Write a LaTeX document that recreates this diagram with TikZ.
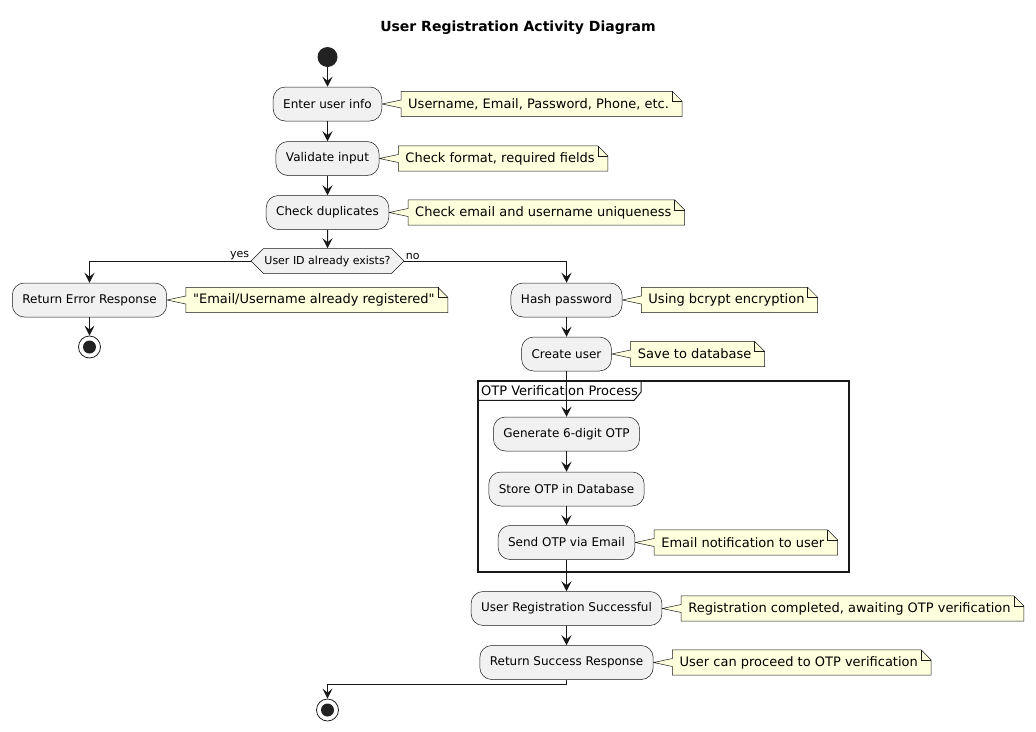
\documentclass[tikz,border=0pt]{standalone}
\usepackage{fontspec}
\setmainfont{DejaVu Sans}[Ligatures=TeXOff]
\usetikzlibrary{arrows.meta,calc,positioning,shapes.symbols,backgrounds}
\definecolor{actfill}{HTML}{F1F1F1}
\definecolor{notefill}{HTML}{FEFFDD}
\definecolor{ink}{HTML}{181818}
\definecolor{dot}{HTML}{222222}
\def\notelink(#1)(#2){\begin{pgfonlayer}{background}\draw[ink, line width=0.5pt, fill=notefill] (#1.south west) -- ($(#1.west)+(0,4)$) -- (#2.east) -- ($(#1.west)+(0,-4)$) -- (#1.north west) -- ($(#1.north east)+(-10,0)$) -- ($(#1.north east)+(0,10)$) -- (#1.south east) -- cycle;\end{pgfonlayer}
	\draw[ink, line width=0.5pt] ($(#1.north east)+(-10,0)$) -- ($(#1.north east)+(-10,10)$) -- ($(#1.north east)+(0,10)$);}

\begin{document}
\begin{tikzpicture}[x=1pt, y=-1pt,
		action/.style={draw=ink, line width=0.5pt, fill=actfill, rounded corners=12pt, minimum height=34pt, inner xsep=10pt, inner ysep=0pt, font=\fontsize{12}{14}\selectfont},
		note/.style={minimum height=25pt, inner xsep=7pt, inner ysep=0pt, font=\fontsize{13}{15}\selectfont, execute at end node={\hspace{6pt}}},
		decide/.style={signal, signal to=west and east, draw=ink, line width=0.5pt, fill=actfill, minimum height=25pt, inner xsep=1pt, inner ysep=0pt, font=\fontsize{11}{13}\selectfont},
		branch/.style={inner sep=1pt, font=\fontsize{11}{13}\selectfont},
		startdot/.style={circle, fill=dot, minimum size=20pt, inner sep=0pt},
		stopdot/.style={circle, draw=dot, line width=0.8pt, fill=white, minimum size=22pt, inner sep=0pt, path picture={\fill[dot] (path picture bounding box.center) circle (6.5pt);}},
		flow/.style={draw=ink, line width=1pt, -{Stealth[length=10pt, width=10pt, inset=4pt]}}]
			%%%%% START %%%%%
			
			\useasboundingbox (0,0) rectangle (1036,731);
			
			\node[font=\bfseries\fontsize{14}{16}\selectfont] (title) at (518,28) {User Registration Activity Diagram};
			
			\node[startdot] (start) at (327.5,57) {};
			\node[action] (enter) at (327.5,104) {Enter user info};
			\node[action] (validate) at (327.5,158.5) {Validate input};
			\node[action] (dup) at (327.5,212.5) {Check duplicates};
			\node[decide] (exists) at (327.5,261) {User ID already exists?};
			
			\node[action] (error) at (89.5,300) {Return Error Response};
			\node[stopdot] (stopA) at (89.5,347) {};
			
			\node[action] (hash) at (566.5,300) {Hash password};
			\node[action] (create) at (566.5,354) {Create user};
			\node[action] (gen) at (566.5,434) {Generate 6-digit OTP};
			\node[action] (store) at (566.5,489) {Store OTP in Database};
			\node[action] (send) at (566.5,542.5) {Send OTP via Email};
			\node[action] (success) at (566.5,608.5) {User Registration Successful};
			\node[action] (ret) at (566.5,662.5) {Return Success Response};
			\node[stopdot] (stopB) at (327.5,710) {};
			
			\node[note, right=19pt of enter] (noteEnter) {Username, Email, Password, Phone, etc.};
			\notelink(noteEnter)(enter);
			\node[note, right=19pt of validate] (noteValidate) {Check format, required fields};
			\notelink(noteValidate)(validate);
			\node[note, right=19pt of dup] (noteDup) {Check email and username uniqueness};
			\notelink(noteDup)(dup);
			\node[note, right=19pt of error] (noteError) {"Email/Username already registered"};
			\notelink(noteError)(error);
			\node[note, right=19pt of hash] (noteHash) {Using bcrypt encryption};
			\notelink(noteHash)(hash);
			\node[note, right=19pt of create] (noteCreate) {Save to database};
			\notelink(noteCreate)(create);
			\node[note, right=19pt of send] (noteSend) {Email notification to user};
			\notelink(noteSend)(send);
			\node[note, right=19pt of success] (noteSuccess) {Registration completed, awaiting OTP verification};
			\notelink(noteSuccess)(success);
			\node[note, right=19pt of ret] (noteRet) {User can proceed to OTP verification};
			\notelink(noteRet)(ret);
			
			% OTP frame
			\draw[ink, line width=1.5pt] (478,381) rectangle (849,572);
			\node[anchor=north west, minimum height=19pt, inner xsep=3pt, inner ysep=0pt, font=\fontsize{13}{15}\selectfont] (otp) at (478,381) {OTP Verification Process};
			\draw[ink, line width=1pt] (otp.south west) -- ($(otp.south east)+(-7,0)$) -- ($(otp.north east)+(0,11)$) -- (otp.north east);
			
			\draw[flow] (start) -- (enter);
			\draw[flow] (enter) -- (validate);
			\draw[flow] (validate) -- (dup);
			\draw[flow] (dup) -- (exists);
			\draw[flow] (exists.west) node[branch, anchor=south east] (yes) {yes} -| (error.north);
			\draw[flow] (exists.east) node[branch, anchor=south west] (no) {no} -| (hash.north);
			\draw[flow] (error) -- (stopA);
			\draw[flow] (hash) -- (create);
			\draw[flow] (create) -- (gen);
			\draw[flow] (gen) -- (store);
			\draw[flow] (store) -- (send);
			\draw[flow] (send) -- (success);
			\draw[flow] (success) -- (ret);
			\draw[flow] (ret.south) -- ++(0,5) -| (stopB.north);
			
			%%%%% END %%%%%
\end{tikzpicture}
\end{document}
